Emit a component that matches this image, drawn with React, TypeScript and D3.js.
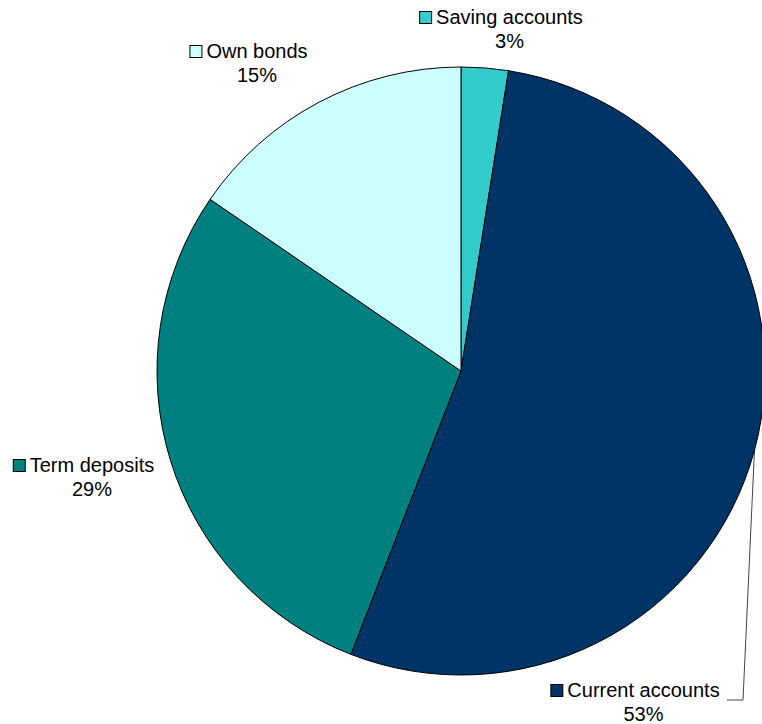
import React from "react";
import * as d3 from "d3";

const categories = ["Saving accounts", "Current accounts", "Term deposits", "Own bonds"];
const values = [2.5, 53.4, 28.65, 15.45];
const colors = ["#33CCCC", "#003366", "#008080", "#CCFFFF"];

// label layout (text centre x, first baseline y)
const labelPos = [
  { x: 509.5, y: 24 },
  { x: 643.5, y: 697 },
  { x: 92, y: 472 },
  { x: 257, y: 58 },
];

const W = 762;
const H = 724;
const CX = 461;
const CY = 371;
const R = 304;
const FONT = "Arial, 'Liberation Sans', sans-serif";

export default function App() {
  const total = d3.sum(values);
  const data = categories.map((c, i) => ({ c, v: values[i], i }));
  const pie = d3.pie<any>().value((d) => d.v).sort(null).startAngle(0).endAngle(2 * Math.PI);
  const arcs = pie(data);
  const arc = d3.arc<any>().innerRadius(0).outerRadius(R);

  // leader line for Current accounts
  const cur = arcs[1];
  const mid = (cur.startAngle + cur.endAngle) / 2;
  const sx = CX + R * Math.sin(mid);
  const sy = CY - R * Math.cos(mid);
  const leader = d3.line()([
    [sx, sy],
    [743, 700],
    [727, 700],
  ]);

  const fmt = (v: number) => `${Math.round((v / total) * 100)}%`;

  return (
    <svg
      width={W}
      height={H}
      style={{ position: "absolute", left: 0, top: 0, background: "#fff" }}
      fontFamily={FONT}
    >
      <path d={leader || ""} fill="none" stroke="#444" strokeWidth={1} />
      <g transform={`translate(${CX},${CY})`}>
        {arcs.map((a, i) => (
          <path key={i} d={arc(a) || ""} fill={colors[i]} stroke="#000" strokeWidth={1} />
        ))}
      </g>
      {data.map((d, i) => {
        const p = labelPos[i];
        const tw = 0; // placeholder
        return (
          <g key={i}>
            <LabelRow x={p.x} y={p.y} text={d.c} color={colors[i]} />
            <text x={p.x} y={p.y + 24} textAnchor="middle" fontSize={20} fill="#000">
              {fmt(d.v)}
            </text>
          </g>
        );
      })}
    </svg>
  );
}

function LabelRow({ x, y, text, color }: { x: number; y: number; text: string; color: string }) {
  const ref = React.useRef<SVGTextElement>(null);
  const [w, setW] = React.useState(0);
  React.useLayoutEffect(() => {
    if (ref.current) setW(ref.current.getComputedTextLength());
  }, [text]);
  const left = x - w / 2;
  return (
    <g>
      <rect x={left - 16.5} y={y - 12.5} width={12} height={12} fill={color} stroke="#000" strokeWidth={1} />
      <text ref={ref} x={x} y={y} textAnchor="middle" fontSize={20} fill="#000">
        {text}
      </text>
    </g>
  );
}
